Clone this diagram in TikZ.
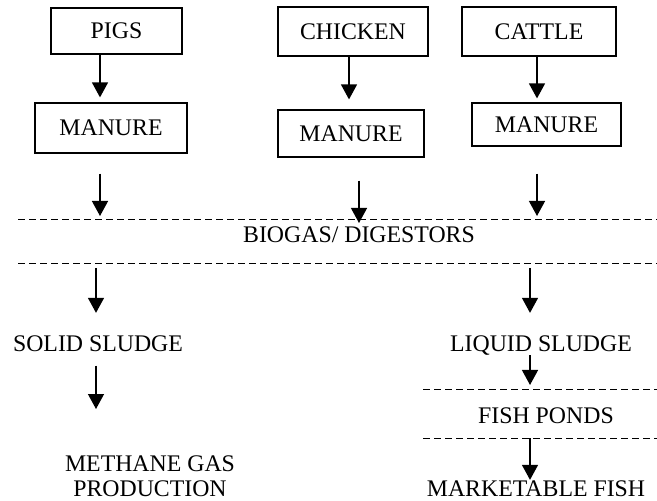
\documentclass[tikz,border=0pt]{standalone}
\usepackage{fontspec}
\setmainfont{Liberation Serif}
\usetikzlibrary{arrows.meta}

\begin{document}
\begin{tikzpicture}[x=0.5pt,y=-0.5pt,
    font=\fontsize{11.9}{12.6}\selectfont,
    animal/.style={draw,line width=0.6pt,inner sep=0pt},
    label/.style={inner sep=0pt,anchor=base},
    flow/.style={line width=0.65pt,-{Triangle[length=7.5pt,width=8pt]}},
    tank/.style={line width=0.5pt,dash pattern=on 3.5pt off 2pt}]
    \useasboundingbox (0,0) rectangle (657,501);

    % Animals and their manure
    \node[animal,minimum width=65.5pt,minimum height=23pt] (pigs) at (116.5,31) {PIGS};
    \node[animal,minimum width=75pt,minimum height=24.5pt] (chicken) at (353,31.5) {CHICKEN};
    \node[animal,minimum width=77pt,minimum height=24.5pt] (cattle) at (539,31.5) {CATTLE};
    \node[animal,minimum width=76pt,minimum height=25pt] (pigsman) at (111,128) {MANURE};
    \node[animal,minimum width=73pt,minimum height=23.5pt] (chickman) at (351,133.5) {MANURE};
    \node[animal,minimum width=74.5pt,minimum height=21.5pt] (cattleman) at (546.5,124.5) {MANURE};

    \draw[flow,shorten >=2.5pt] (pigs.south -| 100,0) -- (pigsman.north -| 100,0);
    \draw[flow,shorten >=5pt] (chicken.south -| 349,0) -- (chickman.north -| 349,0);
    \draw[flow,shorten >=2pt] (cattle.south -| 537,0) -- (cattleman.north -| 537,0);

    % Biogas digestors
    \coordinate (digtop) at (18,220);
    \coordinate (digtopend) at (657,220);
    \coordinate (digbot) at (18,264);
    \coordinate (digbotend) at (657,264);
    \draw[tank] (digtop) -- (digtopend);
    \draw[tank] (digbot) -- (digbotend);
    \node[label] (biogas) at (359,243) {BIOGAS/ DIGESTORS};

    \draw[flow,shorten <=10pt,shorten >=2pt] (pigsman.south -| 100,0) -- (digtop -| 100,0);
    \draw[flow,shorten <=11.5pt,shorten >=-1.5pt] (chickman.south -| 359,0) -- (digtop -| 359,0);
    \draw[flow,shorten <=13.5pt,shorten >=2pt] (cattleman.south -| 537,0) -- (digtop -| 537,0);

    % Sludge
    \node[label] (solid) at (98,351) {SOLID SLUDGE};
    \node[label] (liquid) at (541,351) {LIQUID SLUDGE};
    \node[inner sep=0pt,anchor=north,align=center] (methane) at (150,455) {METHANE GAS\\PRODUCTION};

    \draw[flow,shorten <=2pt,shorten >=11pt] (digbot -| 96,0) -- (solid.north -| 96,0);
    \draw[flow,shorten <=2pt,shorten >=11pt] (digbot -| 530,0) -- (liquid.north -| 530,0);
    \draw[flow,shorten <=7pt,shorten >=23pt] (solid.south -| 96,0) -- (methane.north -| 96,0);

    % Fish ponds
    \coordinate (pondtop) at (423,389);
    \coordinate (pondtopend) at (657,389);
    \coordinate (pondbot) at (423,438);
    \coordinate (pondbotend) at (657,438);
    \draw[tank] (pondtop) -- (pondtopend);
    \draw[tank] (pondbot) -- (pondbotend);
    \node[label] (ponds) at (546,423) {FISH PONDS};
    \node[label] (market) at (536,496) {MARKETABLE FISH};

    \draw[flow,shorten >=2pt] (liquid.south -| 530,0) -- (pondtop -| 530,0);
    \draw[flow] (pondbot -| 530,0) -- (market.north -| 530,0);
\end{tikzpicture}
\end{document}
